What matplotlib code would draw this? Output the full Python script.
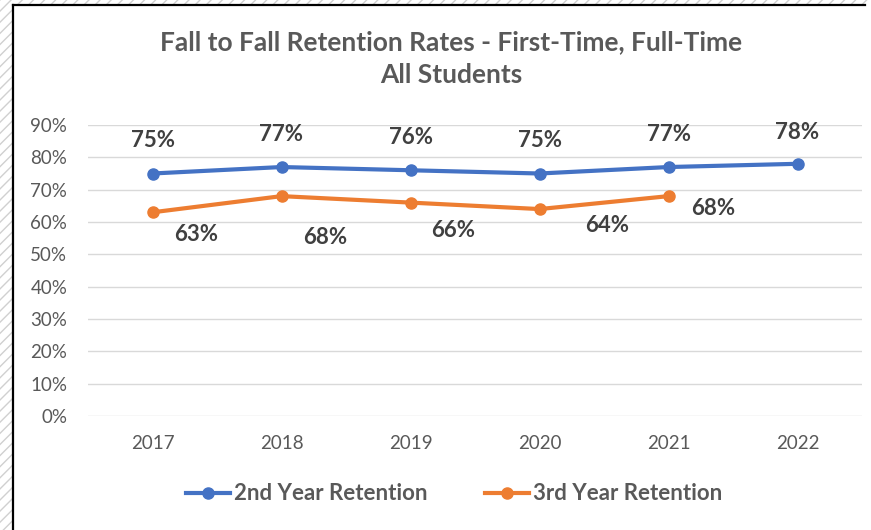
import matplotlib

matplotlib.use("Agg")
import matplotlib.pyplot as plt  # noqa: E402
from matplotlib.patches import Rectangle  # noqa: E402
from matplotlib.lines import Line2D  # noqa: E402
from matplotlib.ticker import PercentFormatter  # noqa: E402

years = ["2017", "2018", "2019", "2020", "2021", "2022"]
second_year = [75, 77, 76, 75, 77, 78]
third_year = [63, 68, 66, 64, 68]

# label offsets in pixels (dx, dy), hand placed like the original
second_offsets = [(0, 33), (0, 33), (0, 33), (0, 33), (0, 33), (0, 31)]
third_offsets = [(44, -22), (44, -41), (43, -28), (68, -16), (45, -12)]

BLUE = "#4472C4"
ORANGE = "#ED7D31"
GRID = "#D9D9D9"
TXT = "#595959"
LBL = "#404040"
HATCH = "#D0D0D0"

plt.rcParams["font.family"] = ["Lato", "DejaVu Sans"]
plt.rcParams["hatch.linewidth"] = 1.0

W, H = 871, 530
fig = plt.figure(figsize=(W / 100, H / 100), dpi=100)

# hatched frame outside the chart area (left and top strips)
for rect in [(0, 0, 13 / W, 1), (0, 1 - 5 / H, 1, 5 / H)]:
    fig.patches.append(Rectangle(rect[:2], rect[2], rect[3], transform=fig.transFigure,
                                 facecolor="white", edgecolor=HATCH, lw=0,
                                 hatch="///"))
fig.lines.append(Line2D([13 / W, 13 / W], [0, 1 - 5 / H], transform=fig.transFigure,
                        color="black", lw=1.6))
fig.lines.append(Line2D([13 / W, 865 / W], [1 - 5 / H, 1 - 5 / H],
                        transform=fig.transFigure, color="black", lw=1.6))

ax = fig.add_axes([88 / W, 1 - 416 / H, (862 - 88) / W, (416 - 125) / H])
x2 = list(range(len(second_year)))
x3 = list(range(len(third_year)))
ax.plot(x2, second_year, color=BLUE, lw=3, marker="o", ms=8, zorder=3,
        label="2nd Year Retention")
ax.plot(x3, third_year, color=ORANGE, lw=3, marker="o", ms=8, zorder=3,
        label="3rd Year Retention")

for xi, v, (dx, dy) in zip(x2, second_year, second_offsets):
    ax.annotate(f"{v}%", (xi, v), xytext=(dx, dy), textcoords="offset pixels",
                ha="center", va="center", fontsize=16, fontweight="bold", color=LBL)
for xi, v, (dx, dy) in zip(x3, third_year, third_offsets):
    ax.annotate(f"{v}%", (xi, v), xytext=(dx, dy), textcoords="offset pixels",
                ha="center", va="center", fontsize=16, fontweight="bold", color=LBL)

ax.set_xlim(-0.5, len(years) - 0.5)
ax.set_ylim(0, 90)
ax.set_xticks(range(len(years)))
ax.set_xticklabels(years)
ax.set_yticks(range(0, 91, 10))
ax.yaxis.set_major_formatter(PercentFormatter(decimals=0))
ax.grid(axis="y", color=GRID, lw=1)
ax.set_axisbelow(True)
for s in ax.spines.values():
    s.set_visible(False)
ax.tick_params(length=0, colors=TXT, labelsize=13.5)
ax.tick_params(axis="x", pad=14)
ax.tick_params(axis="y", pad=15)

fig.text(451 / W, 1 - 42 / H, "Fall to Fall Retention Rates - First-Time, Full-Time",
         ha="center", va="center", fontsize=19, fontweight="bold", color=TXT)
fig.text(451 / W, 1 - 75 / H, "All Students",
         ha="center", va="center", fontsize=19, fontweight="bold", color=TXT)

leg = fig.legend(loc="center", bbox_to_anchor=(454 / W, 1 - 494 / H), ncol=2,
                 frameon=False, fontsize=16, handlelength=2.0, columnspacing=2.6,
                 handletextpad=0.15)
for t in leg.get_texts():
    t.set_fontweight("bold")
    t.set_color(TXT)

fig.savefig("out.png", dpi=100)
